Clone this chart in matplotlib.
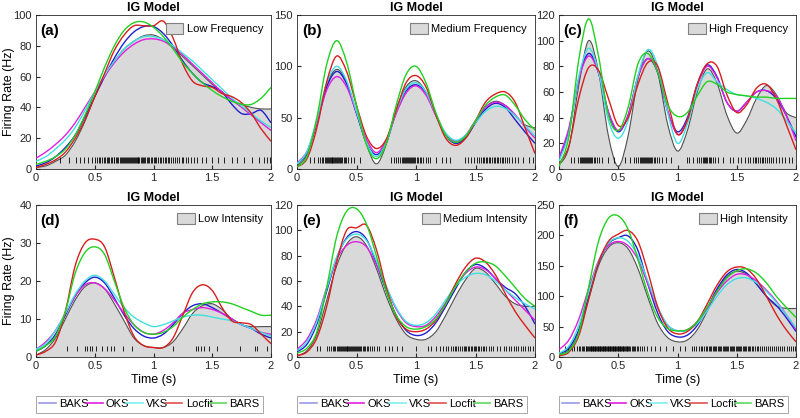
import numpy as np
import matplotlib
matplotlib.use("Agg")
import matplotlib.pyplot as plt
from matplotlib.path import Path
from matplotlib.patches import PathPatch, Patch
from matplotlib.lines import Line2D

plt.rcParams['font.family'] = ['Liberation Sans', 'DejaVu Sans']

# time grid (s), one value every 1/12 s
t = np.linspace(0, 2, 25)

# (a) Low Frequency
a_true   = [1, 2, 5, 9, 18, 31, 47, 60, 70, 78, 83, 86.5, 87, 84, 79, 73, 67, 61, 55, 50, 45, 42, 40, 39, 39]
a_baks   = [2, 4, 8, 14, 22, 34, 47, 60, 72, 82, 89, 92.5, 92.5, 88, 80, 70, 62, 56, 53.5, 50, 42, 36, 36, 38, 30]
a_oks    = [7, 11, 16, 22, 30, 40, 50, 60, 69, 76, 81, 84, 84.5, 83, 79, 74, 68, 62, 56, 50, 45, 40, 35, 30, 25]
a_vks    = [5, 8, 13, 19, 27, 38, 50, 61, 70, 78, 83, 86, 86, 84, 80, 75, 70, 64, 58, 52, 46, 41, 36, 31, 27]
a_locfit = [1, 3, 6, 11, 20, 32, 47, 62, 77, 87, 93, 93, 93, 96, 85, 68, 57, 54, 53, 49, 47, 43, 36, 26, 18]
a_bars   = [3, 5, 8, 13, 22, 35, 50, 66, 80, 90, 95, 95.5, 92, 86, 78, 69, 62, 56, 51, 47, 44, 42, 42, 46, 53]
a_spikes = [200, 285, 340, 378, 412, 440, 475, 505, 520, 540, 548, 560, 575, 590, 600, 612, 625, 640, 650,
            660, 668, 680, 690, 700, 712, 720, 730, 738, 748, 758, 765, 772, 780, 790, 798, 806, 815, 822,
            830, 840, 848, 856, 865, 872, 880, 890, 900, 910, 920, 930, 945, 955, 965, 978, 990, 1000, 1015,
            1025, 1040, 1052, 1065, 1080, 1095, 1110, 1120, 1135, 1150, 1170, 1185, 1200, 1220, 1240, 1255,
            1275, 1295, 1320, 1345, 1370, 1410, 1450, 1495, 1550, 1600, 1665, 1710, 1770, 1840, 1895, 1940,
            1965, 1990]

# (b) Medium Frequency
b_true   = [3, 14, 45, 82, 97, 85, 55, 24, 5, 24, 58, 80, 86, 75, 52, 33, 25, 30, 45, 60, 66, 62, 52, 43, 40]
b_baks   = [5, 16, 45, 80, 95, 83, 54, 26, 14, 26, 55, 76, 82, 74, 53, 33, 25, 31, 45, 58, 64, 60, 48, 36, 25]
b_oks    = [6, 17, 45, 77, 90, 80, 55, 29, 16, 28, 54, 74, 81, 72, 52, 34, 27, 33, 47, 60, 65, 62, 53, 41, 30]
b_vks    = [5, 17, 48, 84, 100, 86, 56, 26, 12, 26, 56, 78, 84, 75, 53, 35, 28, 33, 45, 56, 61, 59, 52, 42, 32]
b_locfit = [2, 10, 40, 85, 110, 95, 62, 32, 20, 29, 57, 84, 91, 80, 53, 30, 23, 30, 47, 65, 73, 75, 65, 40, 15]
b_bars   = [2, 12, 50, 102, 125, 104, 62, 24, 10, 25, 62, 92, 100, 84, 55, 33, 26, 32, 47, 62, 70, 72, 62, 48, 38]
b_spikes = [110, 140, 175, 195, 210, 222, 232, 242, 250, 258, 266, 274, 282, 290, 298, 306, 314, 322, 330,
            338, 346, 354, 362, 372, 382, 392, 402, 415, 430, 450, 475, 530, 790, 815, 835, 850, 865, 880,
            890, 900, 910, 918, 926, 934, 942, 950, 958, 966, 975, 985, 995, 1005, 1015, 1030, 1045, 1060,
            1080, 1100, 1120, 1165, 1215, 1250, 1285, 1410, 1440, 1465, 1490, 1510, 1530, 1545, 1560, 1575,
            1590, 1600, 1612, 1625, 1640, 1652, 1665, 1680, 1692, 1705, 1720, 1735, 1750, 1768, 1785, 1805,
            1830, 1860, 1900, 1950, 1985]

# (c) High Frequency
c_true   = [3, 17, 65, 100, 76, 26, 2, 26, 70, 92, 75, 35, 14, 30, 60, 78, 67, 42, 28, 38, 55, 65, 58, 44, 40]
c_baks   = [8, 30, 70, 90, 75, 44, 29, 42, 72, 86, 75, 45, 29, 40, 66, 81, 72, 52, 45, 52, 60, 61, 55, 42, 25]
c_oks    = [9, 32, 70, 88, 75, 45, 30, 42, 72, 86, 76, 46, 27, 38, 65, 80, 71, 52, 45, 52, 60, 61, 57, 42, 22]
c_vks    = [6, 28, 72, 94, 76, 38, 24, 38, 73, 93, 80, 44, 20, 35, 62, 75, 68, 62, 58, 57, 55, 52, 47, 38, 28]
c_locfit = [4, 18, 55, 79, 77, 55, 34, 40, 66, 83, 80, 52, 27, 38, 66, 82, 80, 58, 44, 50, 63, 66, 55, 35, 15]
c_bars   = [2, 25, 85, 117, 88, 42, 30, 48, 82, 90, 75, 50, 41, 44, 57, 68, 66, 60, 58, 57, 56, 56, 55, 55, 55]
c_spikes = [100, 130, 160, 175, 188, 198, 206, 214, 222, 230, 238, 246, 254, 262, 272, 282, 292, 305, 320,
            338, 360, 410, 460, 560, 600, 630, 650, 665, 680, 690, 700, 710, 718, 726, 734, 742, 750, 758,
            766, 776, 786, 798, 812, 828, 846, 870, 905, 945, 1080, 1100, 1130, 1165, 1185, 1200, 1212, 1222,
            1232, 1242, 1252, 1262, 1272, 1285, 1300, 1320, 1345, 1380, 1440, 1470, 1510, 1540, 1570, 1595,
            1615, 1635, 1650, 1665, 1680, 1695, 1710, 1725, 1740, 1755, 1772, 1790, 1810, 1830, 1855, 1880,
            1910, 1940, 1970]

# (d) Low Intensity
d_true   = [0.5, 2, 5, 10, 15, 18.5, 19.5, 18, 14, 9.5, 5, 3, 2.5, 2.5, 4, 7.5, 11.5, 13.5, 14, 12.5, 10, 8.5, 8, 8, 8]
d_baks   = [1.5, 3, 6, 11, 16, 19.5, 21, 19.5, 15.5, 11, 7.5, 5.5, 5, 6, 8.5, 11.5, 13.5, 14, 13, 11.5, 10, 8.5, 7.5, 6, 5]
d_oks    = [2, 4, 7, 11.5, 16, 19, 19.5, 18, 15, 11.5, 8.5, 6.5, 6, 7, 9, 11.5, 12.5, 13, 12.5, 11.5, 10, 8.5, 7.5, 6.5, 6]
d_vks    = [2, 3.5, 7, 11.5, 16.5, 20, 21.5, 20, 16.5, 13, 10.5, 9, 8, 8.5, 9.5, 10.5, 11, 11, 10.5, 10, 9.5, 8.5, 7.5, 6.5, 5.5]
d_locfit = [0.5, 1.5, 4, 12, 24, 30, 31, 29, 21, 12, 5.5, 3, 2.5, 2.5, 5, 11, 17, 19, 17.5, 13, 9.5, 9, 8.5, 6, 3.5]
d_bars   = [1.5, 3, 5.5, 12, 22, 27.5, 29, 27, 20, 13, 8.5, 6.5, 6, 6.5, 8, 10.5, 12.5, 14, 14.5, 14.5, 14, 13, 12, 11, 11]
d_spikes = [260, 350, 420, 435, 460, 480, 510, 560, 600, 635, 660, 740, 820, 1170, 1360, 1380, 1400, 1430,
            1470, 1540, 1740, 1860, 1880, 1970]

# (e) Medium Intensity
e_true   = [1, 5, 18, 45, 72, 89, 95, 88, 70, 48, 30, 18, 14, 14, 20, 33, 48, 61, 70, 67, 58, 48, 42, 40, 40]
e_baks   = [4, 10, 26, 52, 78, 94, 99, 93, 74, 52, 33, 21, 17, 19, 27, 40, 54, 67, 73, 70, 62, 55, 50, 40, 26]
e_oks    = [6, 14, 30, 55, 77, 88, 91, 87, 73, 55, 38, 27, 24, 25, 32, 43, 56, 66, 71, 69, 62, 53, 45, 37, 29]
e_vks    = [5, 12, 28, 54, 79, 93, 97, 92, 76, 56, 39, 28, 25, 27, 34, 45, 56, 63, 66, 65, 60, 53, 47, 42, 38]
e_locfit = [1, 4, 15, 40, 75, 100, 102, 104, 85, 55, 32, 22, 20, 22, 29, 42, 58, 71, 78, 75, 65, 50, 36, 25, 15]
e_bars   = [3, 7, 20, 55, 95, 115, 117, 105, 80, 52, 33, 24, 22, 24, 30, 42, 56, 67, 74, 75, 72, 64, 55, 46, 40]
e_spikes = [170, 190, 250, 270, 285, 300, 312, 322, 332, 342, 352, 360, 368, 376, 384, 392, 400, 408, 416,
            424, 432, 440, 448, 456, 464, 472, 480, 488, 496, 505, 514, 523, 532, 542, 552, 562, 574, 586,
            600, 615, 630, 650, 670, 690, 740, 770, 800, 840, 880, 1000, 1100, 1130, 1170, 1200, 1225, 1250,
            1270, 1290, 1310, 1325, 1340, 1355, 1370, 1385, 1400, 1412, 1424, 1436, 1448, 1460, 1472, 1484,
            1496, 1508, 1520, 1533, 1546, 1560, 1575, 1590, 1610, 1630, 1650, 1680, 1710, 1740, 1760, 1780,
            1800, 1820, 1840, 1860, 1880, 1900, 1920, 1940, 1960, 1980]

# (f) High Intensity
f_true   = [3, 12, 40, 95, 150, 180, 188, 178, 145, 98, 55, 32, 25, 28, 45, 75, 108, 132, 141, 136, 120, 100, 84, 80, 80]
f_baks   = [5, 15, 45, 100, 155, 186, 196, 199, 175, 120, 72, 42, 33, 36, 52, 80, 112, 135, 144, 138, 120, 100, 85, 65, 42]
f_oks    = [12, 28, 62, 112, 158, 183, 190, 183, 160, 120, 80, 52, 43, 45, 58, 80, 106, 125, 136, 135, 125, 110, 92, 70, 45]
f_vks    = [6, 18, 52, 106, 157, 187, 196, 190, 166, 125, 82, 53, 43, 44, 55, 76, 100, 119, 129, 130, 122, 108, 90, 70, 48]
f_locfit = [2, 8, 35, 95, 155, 190, 202, 208, 190, 140, 82, 48, 38, 42, 58, 87, 118, 140, 148, 145, 128, 100, 70, 45, 25]
f_bars   = [4, 10, 40, 115, 190, 228, 232, 210, 160, 105, 65, 47, 43, 45, 58, 82, 108, 130, 142, 145, 138, 122, 100, 82, 65]
f_spikes = [50, 80, 110, 130, 150, 165, 180, 192, 204, 214, 224, 232, 240, 247, 254, 260, 266, 272, 278, 284,
            290, 296, 302, 308, 314, 320, 326, 332, 338, 344, 350, 356, 362, 368, 374, 380, 386, 392, 398,
            404, 410, 416, 422, 428, 434, 440, 446, 452, 458, 464, 470, 476, 482, 488, 494, 500, 506, 512,
            518, 524, 530, 536, 542, 549, 556, 563, 570, 578, 586, 594, 602, 612, 622, 632, 644, 656, 668,
            682, 700, 720, 745, 775, 810, 850, 900, 960, 1020, 1060, 1120, 1140, 1160, 1178, 1195, 1210,
            1225, 1238, 1250, 1262, 1274, 1285, 1296, 1307, 1318, 1329, 1340, 1350, 1360, 1370, 1380, 1390,
            1400, 1410, 1420, 1430, 1440, 1450, 1460, 1470, 1480, 1490, 1500, 1510, 1520, 1530, 1540, 1550,
            1560, 1570, 1581, 1592, 1603, 1615, 1627, 1640, 1653, 1667, 1681, 1696, 1711, 1727, 1744, 1761,
            1778, 1795, 1812, 1830, 1848, 1866, 1884, 1902, 1920, 1938, 1956, 1974, 1992]

methods = ['BAKS', 'OKS', 'VKS', 'Locfit', 'BARS']
colors = ['#1f1fd0', '#e020e0', '#40e0e0', '#d81e1e', '#22d022']
legend_colors = ['#9a9ae8', '#e020e0', '#80f0f0', '#e05050', '#60d860']

panels = [
    ('(a)', 'Low Frequency', a_true, [a_baks, a_oks, a_vks, a_locfit, a_bars], a_spikes, 100, 20),
    ('(b)', 'Medium Frequency', b_true, [b_baks, b_oks, b_vks, b_locfit, b_bars], b_spikes, 150, 50),
    ('(c)', 'High Frequency', c_true, [c_baks, c_oks, c_vks, c_locfit, c_bars], c_spikes, 120, 20),
    ('(d)', 'Low Intensity', d_true, [d_baks, d_oks, d_vks, d_locfit, d_bars], d_spikes, 40, 10),
    ('(e)', 'Medium Intensity', e_true, [e_baks, e_oks, e_vks, e_locfit, e_bars], e_spikes, 120, 20),
    ('(f)', 'High Intensity', f_true, [f_baks, f_oks, f_vks, f_locfit, f_bars], f_spikes, 250, 50),
]


def smooth_verts(x, y):
    # catmull-rom curve through the data points, as cubic bezier path
    p = np.column_stack([x, y]).astype(float)
    verts = [p[0]]
    codes = [Path.MOVETO]
    n = len(p)
    for i in range(n - 1):
        p0 = p[max(i - 1, 0)]
        p1 = p[i]
        p2 = p[i + 1]
        p3 = p[min(i + 2, n - 1)]
        verts += [p1 + (p2 - p0) / 6.0, p2 - (p3 - p1) / 6.0, p2]
        codes += [Path.CURVE4] * 3
    return verts, codes


fig = plt.figure(figsize=(8, 4.18), dpi=100)
lefts = [36 / 800, 297 / 800, 559 / 800]
widths = [235 / 800, 238 / 800, 237 / 800]
bottoms = [249 / 418, 61 / 418]
heights = [154 / 418, 152 / 418]

axes = []
for idx, (tag, name, true_rate, estimates, spikes, ymax, ystep) in enumerate(panels):
    row, col = divmod(idx, 3)
    ax = fig.add_axes([lefts[col], bottoms[row], widths[col], heights[row]])
    axes.append(ax)

    # true rate: gray area with dark outline
    v, c = smooth_verts(t, true_rate)
    fill_v = v + [(t[-1], 0), (t[0], 0), v[0]]
    fill_c = c + [Path.LINETO, Path.LINETO, Path.CLOSEPOLY]
    ax.add_patch(PathPatch(Path(fill_v, fill_c), facecolor='#d9d9d9', edgecolor='none', zorder=1))
    ax.add_patch(PathPatch(Path(v, c), facecolor='none', edgecolor='#505050', lw=0.8, zorder=2))

    # spike raster
    ax.vlines(np.array(spikes) / 1000.0, 0.04, 0.075, transform=ax.get_xaxis_transform(),
              colors='black', lw=0.6, zorder=3)

    for est, col_ in zip(estimates, colors):
        v, c = smooth_verts(t, est)
        ax.add_patch(PathPatch(Path(v, c), facecolor='none', edgecolor=col_, lw=1.0, zorder=4))

    ax.set_xlim(0, 2)
    ax.set_ylim(0, ymax)
    ax.set_xticks([0, 0.5, 1, 1.5, 2])
    ax.set_xticklabels(['0', '0.5', '1', '1.5', '2'])
    ax.set_yticks(np.arange(0, ymax + 1, ystep))
    ax.tick_params(direction='in', length=3, labelsize=8, colors='#262626', pad=3)
    for s in ax.spines.values():
        s.set_color('#262626')
        s.set_linewidth(0.6)
    ax.set_title('IG Model', fontsize=9, fontweight='bold', pad=3)
    ax.text(0.02, 0.87, tag, transform=ax.transAxes, fontsize=11, fontweight='bold')
    ax.legend([Patch(facecolor='#d9d9d9', edgecolor='#808080', lw=0.8)], [name], loc='upper right',
              frameon=False, fontsize=8, handlelength=1.6, handleheight=1.2, handletextpad=0.3,
              borderaxespad=0.3)
    if col == 0:
        ax.set_ylabel('Firing Rate (Hz)', fontsize=9)
        ax.yaxis.set_label_coords(-0.09, 0.5)
    if row == 1:
        ax.set_xlabel('Time (s)', fontsize=9, labelpad=2)
        handles = [Line2D([], [], color=lc, lw=1.2) for lc in legend_colors]
        leg = fig.legend(handles, methods, loc='upper left', ncol=5, fontsize=8,
                         bbox_to_anchor=(lefts[col], 22 / 418, widths[col] - 8 / 800, 0), mode='expand',
                         borderaxespad=0, handlelength=1.5, handletextpad=0.3, columnspacing=0.5,
                         fancybox=False, edgecolor='#808080', borderpad=0.3)
        leg.get_frame().set_linewidth(0.6)

fig.savefig('out.png', dpi=100)
